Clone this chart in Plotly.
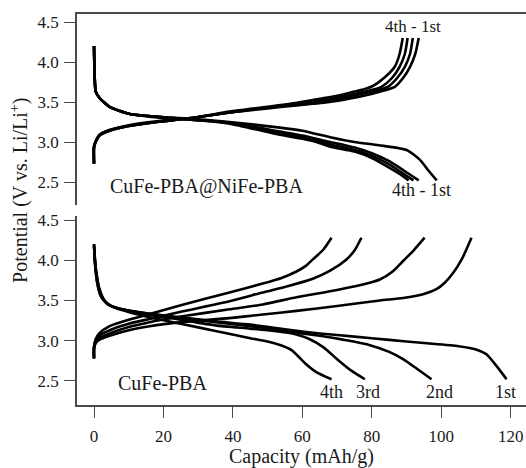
import plotly.graph_objects as go

# ---------------- Data: top panel (CuFe-PBA@NiFe-PBA) ----------------
top_charge_x = {
    "1st": [0, 0, 0.5, 1.6, 4.5, 10, 18, 28, 39, 50, 59, 66, 72, 78, 82.5, 86.6, 89, 91, 92.5, 93.5],
    "2nd": [0, 0, 0.5, 1.6, 4.5, 10, 18, 28, 39, 50, 59, 66, 71.5, 77, 81, 84.6, 87.3, 89.5, 91, 91.8],
    "3rd": [0, 0, 0.5, 1.6, 4.5, 10, 18, 28, 39, 50, 59, 65.5, 71, 76, 80, 82.8, 85.8, 88, 89.5, 90.3],
    "4th": [0, 0, 0.5, 1.6, 4.5, 10, 18, 28, 39, 50, 58.5, 65, 70.5, 75, 78.5, 80.3, 83.5, 86.6, 88, 88.9],
}
top_charge_v = {
    "1st": [2.73, 2.93, 3.0, 3.08, 3.14, 3.2, 3.25, 3.3, 3.37, 3.42, 3.46, 3.49, 3.53, 3.58, 3.63, 3.69, 3.8, 3.94, 4.1, 4.3],
    "2nd": [2.73, 2.94, 3.0, 3.08, 3.14, 3.2, 3.25, 3.3, 3.37, 3.43, 3.47, 3.5, 3.54, 3.6, 3.64, 3.69, 3.8, 3.94, 4.1, 4.3],
    "3rd": [2.73, 2.94, 3.01, 3.09, 3.15, 3.2, 3.25, 3.3, 3.37, 3.43, 3.48, 3.52, 3.56, 3.61, 3.65, 3.69, 3.8, 3.94, 4.1, 4.3],
    "4th": [2.73, 2.95, 3.01, 3.09, 3.15, 3.21, 3.26, 3.3, 3.38, 3.44, 3.49, 3.54, 3.58, 3.63, 3.67, 3.7, 3.8, 3.94, 4.1, 4.3],
}
top_dis_x = {
    "1st": [0, 0.2, 0.5, 1.6, 4.5, 10.3, 20, 28, 39, 53.5, 60, 64, 68, 75, 82, 90, 93.8, 96, 98.7],
    "2nd": [0, 0.2, 0.5, 1.6, 4.5, 10.3, 20, 28, 39, 53.5, 60, 64, 68, 75, 80, 85, 89, 93.5],
    "3rd": [0, 0.2, 0.5, 1.6, 4.5, 10.3, 20, 28, 39, 53.5, 60, 64, 68, 75, 80, 85, 88.5, 92],
    "4th": [0, 0.2, 0.5, 1.6, 4.5, 10.3, 20, 28, 39, 53.5, 60, 64, 68, 75, 80, 85, 88, 90.6],
}
top_dis_v = {
    "1st": [4.2, 3.8, 3.63, 3.55, 3.44, 3.35, 3.31, 3.29, 3.25, 3.18, 3.14, 3.1, 3.06, 3.0, 2.96, 2.9, 2.78, 2.66, 2.52],
    "2nd": [4.2, 3.8, 3.63, 3.55, 3.44, 3.35, 3.31, 3.28, 3.24, 3.13, 3.08, 3.04, 3.0, 2.93, 2.86, 2.76, 2.65, 2.52],
    "3rd": [4.2, 3.8, 3.63, 3.55, 3.44, 3.35, 3.31, 3.28, 3.24, 3.11, 3.06, 3.02, 2.97, 2.9, 2.83, 2.72, 2.62, 2.52],
    "4th": [4.2, 3.8, 3.63, 3.55, 3.44, 3.35, 3.3, 3.28, 3.23, 3.09, 3.04, 3.0, 2.94, 2.88, 2.8, 2.68, 2.6, 2.52],
}

# ---------------- Data: bottom panel (CuFe-PBA) ----------------
bot_charge_x = {
    "1st": [0, 0, 0.5, 1.5, 4.5, 10, 16, 25, 39, 48.6, 58.3, 70, 82.3, 89, 95, 98.6, 101, 103.4, 106, 108.7],
    "2nd": [0, 0, 0.5, 1.5, 4.5, 10, 16, 25, 39, 48.6, 58.3, 70, 79.4, 82.3, 86, 89, 92, 95.2],
    "3rd": [0, 0, 0.5, 1.5, 4.5, 10, 16, 25, 39, 48.6, 56, 63, 68, 72.7, 75, 77],
    "4th": [0, 0, 0.5, 1.5, 4.5, 10, 16, 25, 39, 48.6, 54, 58.3, 61, 63, 66, 68.4],
}
bot_charge_v = {
    "1st": [2.78, 2.9, 2.97, 3.01, 3.06, 3.13, 3.18, 3.23, 3.28, 3.325, 3.37, 3.43, 3.5, 3.53, 3.58, 3.64, 3.72, 3.84, 4.02, 4.28],
    "2nd": [2.78, 2.9, 2.98, 3.03, 3.09, 3.17, 3.23, 3.3, 3.39, 3.45, 3.54, 3.63, 3.72, 3.76, 3.86, 3.99, 4.12, 4.28],
    "3rd": [2.78, 2.92, 3.0, 3.06, 3.13, 3.21, 3.27, 3.36, 3.49, 3.6, 3.68, 3.77, 3.87, 4.01, 4.12, 4.28],
    "4th": [2.78, 2.93, 3.02, 3.09, 3.18, 3.26, 3.33, 3.44, 3.6, 3.71, 3.78, 3.86, 3.93, 4.01, 4.13, 4.28],
}
bot_dis_x = {
    "1st": [0, 0.3, 1, 2, 4, 8, 15, 25, 35, 45, 55, 65, 75, 85, 95, 105, 110, 113, 116, 118.8],
    "2nd": [0, 0.3, 1, 2, 4, 8, 15, 25, 35, 45, 55, 65, 72, 79, 85, 89, 93, 97.2],
    "3rd": [0, 0.5, 1.5, 3, 5, 8, 15, 25, 35, 45, 52, 58, 62, 66, 70, 74, 78],
    "4th": [0, 0.5, 1.5, 3, 5, 8, 15, 25, 35, 45, 50, 54, 57, 61, 64, 68.4],
}
bot_dis_v = {
    "1st": [4.2, 3.95, 3.7, 3.55, 3.45, 3.39, 3.34, 3.29, 3.24, 3.2, 3.14, 3.09, 3.05, 3.01, 2.97, 2.93, 2.89, 2.83, 2.68, 2.52],
    "2nd": [4.2, 3.95, 3.7, 3.55, 3.45, 3.39, 3.34, 3.28, 3.23, 3.18, 3.12, 3.06, 3.01, 2.95, 2.86, 2.77, 2.65, 2.52],
    "3rd": [4.18, 3.9, 3.65, 3.5, 3.43, 3.39, 3.33, 3.26, 3.19, 3.15, 3.12, 3.08, 3.02, 2.92, 2.77, 2.63, 2.52],
    "4th": [4.18, 3.9, 3.65, 3.5, 3.43, 3.38, 3.3, 3.21, 3.12, 3.03, 2.99, 2.94, 2.88, 2.71, 2.61, 2.52],
}

x_ticks = [0, 20, 40, 60, 80, 100, 120]
y_ticks = [2.5, 3.0, 3.5, 4.0, 4.5]
y_tick_text = ["2.5", "3.0", "3.5", "4.0", "4.5"]

cycles = ["1st", "2nd", "3rd", "4th"]

FONT = "Liberation Serif, Times New Roman, serif"
TXT = "#1a1a1a"
AX = "#4a4a4a"

fig = go.Figure()
line = dict(color="black", width=2.6, shape="spline", smoothing=0.6)

for c in cycles:
    fig.add_trace(go.Scatter(x=top_charge_x[c], y=top_charge_v[c], mode="lines", line=line,
                             xaxis="x2", yaxis="y2", showlegend=False, hoverinfo="skip"))
    fig.add_trace(go.Scatter(x=top_dis_x[c], y=top_dis_v[c], mode="lines", line=line,
                             xaxis="x2", yaxis="y2", showlegend=False, hoverinfo="skip"))
    fig.add_trace(go.Scatter(x=bot_charge_x[c], y=bot_charge_v[c], mode="lines", line=line,
                             xaxis="x", yaxis="y", showlegend=False, hoverinfo="skip"))
    fig.add_trace(go.Scatter(x=bot_dis_x[c], y=bot_dis_v[c], mode="lines", line=line,
                             xaxis="x", yaxis="y", showlegend=False, hoverinfo="skip"))

yaxis_common = dict(
    tickvals=y_ticks, ticktext=y_tick_text, ticks="outside", ticklen=11, tickwidth=1.2,
    tickcolor=AX, showline=True, linecolor=AX, linewidth=1.6, showgrid=False, zeroline=False,
    tickfont=dict(family=FONT, size=17, color=TXT), ticklabelstandoff=2,
)

fig.update_layout(
    width=526, height=468,
    margin=dict(l=77, r=0, t=14, b=63),
    paper_bgcolor="white", plot_bgcolor="white",
    font=dict(family=FONT, color=TXT),
    xaxis=dict(domain=[0, 1], anchor="y", range=[-4.9, 124.4], tickvals=x_ticks,
               ticks="outside", ticklen=11, tickwidth=1.2, tickcolor=AX,
               showline=True, linecolor=AX, linewidth=1.6, showgrid=False, zeroline=False,
               tickfont=dict(family=FONT, size=17, color=TXT), ticklabelstandoff=4,
               title=dict(text="Capacity (mAh/g)", font=dict(family=FONT, size=20, color=TXT), standoff=6)),
    yaxis=dict(domain=[0, 0.4834], anchor="x", range=[2.2, 4.55], **yaxis_common),
    xaxis2=dict(domain=[0, 1], anchor="y2", matches="x", side="top", showline=True,
                linecolor=AX, linewidth=1.6, ticks="", showticklabels=False,
                showgrid=False, zeroline=False),
    yaxis2=dict(domain=[0.5115, 1], anchor="x2", range=[2.2125, 4.6], **yaxis_common),
)

ann = []
ann.append(dict(text="Potential (V vs. Li/Li<sup>+</sup>)", xref="paper", yref="paper",
                x=-0.127, y=0.55, textangle=-90, showarrow=False,
                font=dict(family=FONT, size=20, color=TXT), xanchor="center", yanchor="middle"))
ann.append(dict(text="CuFe-PBA@NiFe-PBA", xref="x2", yref="y2", x=4.0, y=2.44, showarrow=False,
                xanchor="left", yanchor="middle", font=dict(family=FONT, size=20, color=TXT)))
ann.append(dict(text="CuFe-PBA", xref="x", yref="y", x=6.2, y=2.47, showarrow=False,
                xanchor="left", yanchor="middle", font=dict(family=FONT, size=20, color=TXT)))
ann.append(dict(text="4th - 1st", xref="x2", yref="y2", x=92.0, y=4.445, showarrow=False,
                xanchor="center", yanchor="middle", font=dict(family=FONT, size=17, color=TXT)))
ann.append(dict(text="4th - 1st", xref="x2", yref="y2", x=94.4, y=2.40, showarrow=False,
                xanchor="center", yanchor="middle", font=dict(family=FONT, size=18, color=TXT)))

top_lbl_x = {"4th": 67.6, "3rd": 77.5, "2nd": 96.3, "1st": 110.0}
bot_lbl_x = {"4th": 68.5, "3rd": 78.8, "2nd": 99.5, "1st": 118.4}
for c in cycles:
    ann.append(dict(text=c, xref="x", yref="y", x=top_lbl_x[c], y=4.575, showarrow=False,
                    xanchor="center", yanchor="middle", font=dict(family=FONT, size=18, color=TXT)))
    ann.append(dict(text=c, xref="x", yref="y", x=bot_lbl_x[c], y=2.363, showarrow=False,
                    xanchor="center", yanchor="middle", font=dict(family=FONT, size=18, color=TXT)))
fig.update_layout(annotations=ann)

fig.write_html("out.html", config={"displayModeBar": False},
               post_script="document.body.style.margin='0';document.body.style.overflow='hidden';")
